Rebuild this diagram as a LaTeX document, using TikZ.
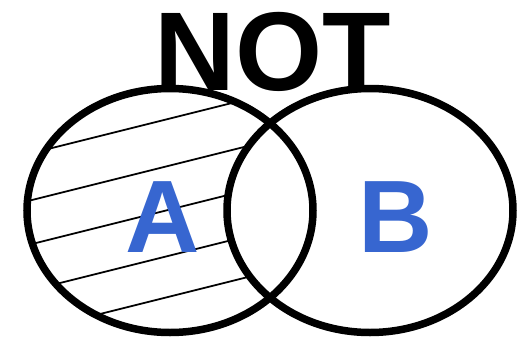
\documentclass[tikz,border=0pt]{standalone}
\usepackage{fontspec}
\setmainfont{Liberation Sans}
\usepackage{xcolor}
\usepackage{tikz}
\usetikzlibrary{positioning}

\definecolor{setblue}{RGB}{55,102,208}

\begin{document}
\begin{tikzpicture}[
    x=1pt, y=-1pt,
    setline/.style={line width=7.5pt},
    hatchline/.style={line width=1.8pt},
    title/.style={
        font=\fontsize{112}{112}\selectfont\bfseries,
        inner sep=0pt,
        anchor=base
    },
    setlabel/.style={
        font=\fontsize{103}{103}\selectfont\bfseries,
        text=setblue,
        inner sep=0pt,
        anchor=base
    }
]
  \useasboundingbox (0,0) rectangle (531,338);

  % hatching: A without B
  \begin{scope}[even odd rule]
    \clip (170,210.5) ellipse [x radius=143, y radius=122];
    \clip (0,0) rectangle (531,338)
        (370,210.5) ellipse [x radius=143, y radius=122];
    \foreach \y in {161,208,252,298,339}
      \draw[hatchline] (0,\y) -- (300,\y-75);
  \end{scope}

  \draw[setline] (170,210.5) ellipse [x radius=143, y radius=122];
  \draw[setline] (370,210.5) ellipse [x radius=143, y radius=122];

  \node[title] (not) at (273,90) {NOT};
  \node[setlabel] (a) at (163,252) {A};
  \node[setlabel] (b) at (396,252) {B};
\end{tikzpicture}
\end{document}
